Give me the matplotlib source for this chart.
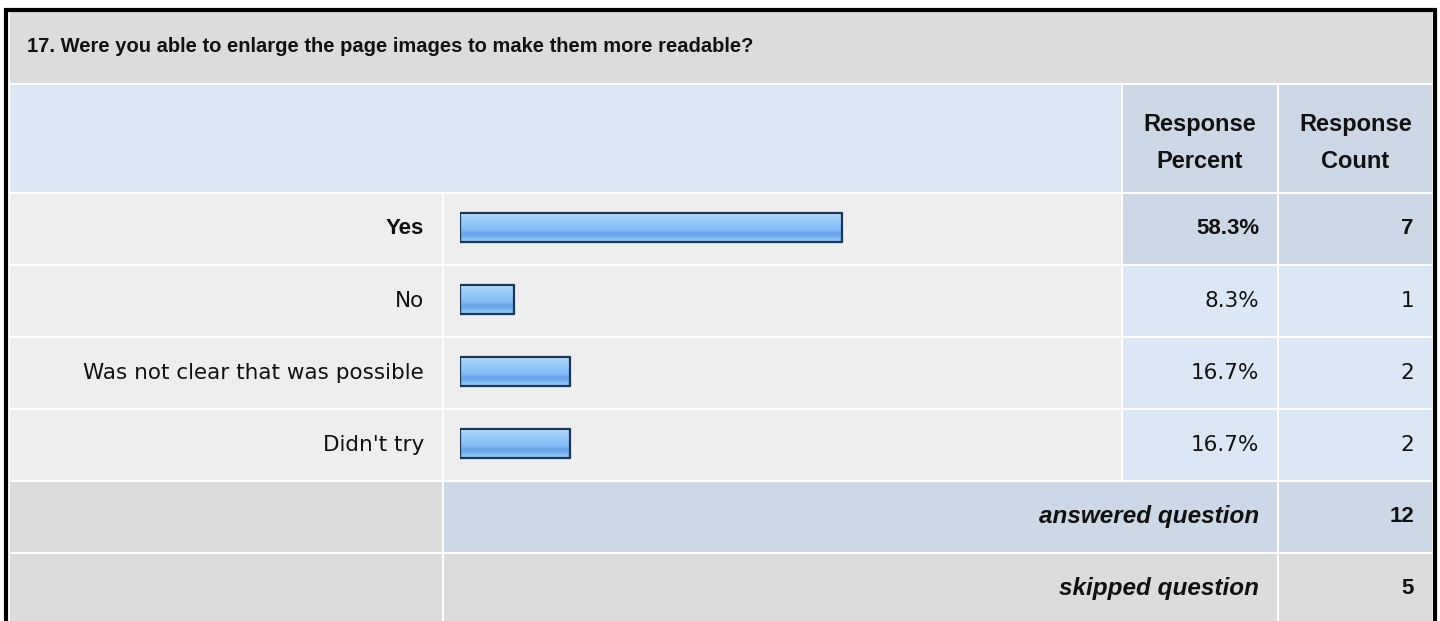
import numpy as np
import matplotlib
matplotlib.use("Agg")
import matplotlib.pyplot as plt
from matplotlib.patches import Rectangle
from matplotlib.colors import LinearSegmentedColormap

# ---------------- data ----------------
title = "17. Were you able to enlarge the page images to make them more readable?"
categories = ["Yes", "No", "Was not clear that was possible", "Didn't try"]
percents = [58.3, 8.3, 16.7, 16.7]
counts = [7, 1, 2, 2]
answered = 12
skipped = 5
header_percent = ["Response", "Percent"]
header_count = ["Response", "Count"]

# ---------------- style ----------------
W, H = 1440, 621
BOLD = "Liberation Sans"
REG = "DejaVu Sans"
TXT = "#111111"
C_TITLE = "#dcdcdc"
C_HEAD = "#dce7f5"
C_HEAD_DARK = "#ccd8e6"
C_ROW = "#eeeeee"
C_CELL = "#dce7f5"
C_CELL_MAX = "#ccd8e6"
C_GRAY = "#dcdcdc"

fig = plt.figure(figsize=(W / 100, H / 100), dpi=100)
fig.patch.set_facecolor("white")
ax = fig.add_axes([0, 0, 1, 1])
ax.set_xlim(0, W)
ax.set_ylim(H, 0)
ax.axis("off")

# column edges (pixels)
x0, x_lab, x_bar, x_pct, x_cnt, x1 = 10, 442, 444, 1123, 1279, 1432
gap = 2
pad = 18


def cell(xa, xb, ya, yb, color):
    ax.add_patch(Rectangle((xa, ya), xb - xa, yb - ya, facecolor=color,
                           edgecolor="none", zorder=1))


# title row
cell(x0, x1, 12, 83, C_TITLE)
ax.text(27, 47, title, fontsize=14.5, fontweight="bold", family=BOLD,
        va="center", ha="left", color=TXT, zorder=3)

# header row
y_h0, y_h1 = 85, 192
cell(x0, x_pct - gap, y_h0, y_h1, C_HEAD)
cell(x_pct, x_cnt - gap, y_h0, y_h1, C_HEAD_DARK)
cell(x_cnt, x1, y_h0, y_h1, C_HEAD_DARK)
for xc, lines in [((x_pct + x_cnt - gap) / 2, header_percent),
                  ((x_cnt + x1) / 2, header_count)]:
    for j, ln in enumerate(lines):
        ax.text(xc, 124 + 37 * j, ln, fontsize=17, fontweight="bold",
                family=BOLD, ha="center", va="center", color=TXT, zorder=3)

# data rows
row_top = 194
row_h = 72
imax = int(np.argmax(counts))
for i, (lab, p, c) in enumerate(zip(categories, percents, counts)):
    ya = row_top + i * row_h
    yb = ya + row_h - gap
    ym = (ya + yb) / 2
    cell(x0, x_lab, ya, yb, C_ROW)
    cell(x_bar, x_pct - gap, ya, yb, C_ROW)
    cc = C_CELL_MAX if i == imax else C_CELL
    cell(x_pct, x_cnt - gap, ya, yb, cc)
    cell(x_cnt, x1, ya, yb, cc)
    if i == imax:
        kw = dict(fontsize=16, fontweight="bold", family=BOLD)
    else:
        kw = dict(fontsize=15.5, fontweight="normal", family=REG)
    ax.text(x_lab - pad, ym, lab, ha="right", va="center", color=TXT,
            zorder=3, **kw)
    ax.text(x_cnt - gap - pad, ym, f"{p:.1f}%", ha="right", va="center",
            color=TXT, zorder=3, **kw)
    ax.text(x1 - pad, ym, f"{c}", ha="right", va="center", color=TXT,
            zorder=3, **kw)

# answered / skipped rows
ya = row_top + 4 * row_h
for k, (lab, val, mid_color) in enumerate([("answered question", answered, C_CELL_MAX),
                                            ("skipped question", skipped, C_GRAY)]):
    a = ya + k * row_h
    b = a + row_h - gap
    m = (a + b) / 2
    cell(x0, x_lab, a, b, C_GRAY)
    cell(x_bar, x_cnt - gap, a, b, mid_color)
    cell(x_cnt, x1, a, b, mid_color)
    ax.text(x_cnt - gap - pad, m, lab, fontsize=17.5, fontweight="bold",
            style="italic", family=BOLD, ha="right", va="center",
            color=TXT, zorder=3)
    ax.text(x1 - pad, m, f"{val}", fontsize=16, fontweight="bold",
            family=BOLD, ha="right", va="center", color=TXT, zorder=3)

# outer border
ax.plot([5.5, 5.5], [9, H + 5], color="black", lw=3, zorder=5, solid_capstyle="butt")
ax.plot([1435, 1435], [9, H + 5], color="black", lw=3, zorder=5, solid_capstyle="butt")
ax.plot([4, 1436.5], [10, 10], color="black", lw=3, zorder=5, solid_capstyle="butt")

# ---------------- bars (own axes, percent scale) ----------------
bar_left = 460
px_per_pct = 6.56
bar_w_px = 100 * px_per_pct
ax_bar = fig.add_axes([bar_left / W, 1 - (row_top + 4 * row_h) / H,
                       bar_w_px / W, 4 * row_h / H])
d = 0.035
ylim = (len(categories) - 0.5 + d, -0.5 + d)
ax_bar.axis("off")
ax_bar.patch.set_alpha(0)

ypos = np.arange(len(categories))
bar_h = 0.40
bars = ax_bar.barh(ypos, percents, height=bar_h, color="#8ec5f7",
                   edgecolor="none", zorder=2)
grad_colors = ["#c4e2fc", "#a9d4fb", "#9ccdfa", "#93c8f8", "#8cc3f7",
               "#86bff6", "#6fa9ec", "#6ca7eb", "#84bdf4", "#9dcdf8"]
cmap = LinearSegmentedColormap.from_list("bargrad", grad_colors)
grad = np.linspace(0, 1, 64).reshape(-1, 1)
for b in bars:
    x, y = b.get_x(), b.get_y()
    w, h = b.get_width(), b.get_height()
    im = ax_bar.imshow(grad, cmap=cmap, aspect="auto",
                       extent=(x, x + w, y + h, y), zorder=3,
                       interpolation="bilinear")
    im.set_clip_path(b)
ax_bar.barh(ypos, percents, height=bar_h, fill=False,
            edgecolor="#1d3557", linewidth=1.6, zorder=4)
ax_bar.set_xlim(0, 100)
ax_bar.set_ylim(*ylim)

fig.savefig("out.png", dpi=100, facecolor="white")
